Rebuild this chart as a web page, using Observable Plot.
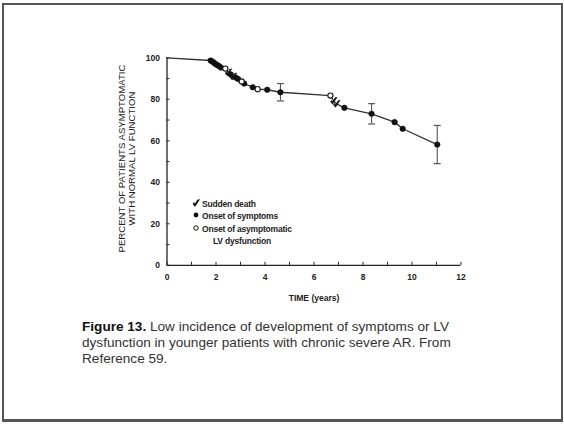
<!DOCTYPE html>
<html>
<head>
<meta charset="utf-8">
<script src="https://cdn.jsdelivr.net/npm/d3@7"></script>
<script src="https://cdn.jsdelivr.net/npm/@observablehq/plot@0.6"></script>
<style>
  html, body { margin: 0; padding: 0; background: #fff; }
  #wrap { position: relative; width: 564px; height: 424px; overflow: hidden; font-family: "Liberation Sans", Arial, sans-serif; }
  #frame { position: absolute; left: 2px; top: 3px; width: 557px; height: 414px; border: 2px solid #555; border-bottom-width: 3px; }
  #chart { position: absolute; left: 0; top: 0; }
  #legend { position: absolute; left: 192px; top: 198px; font-size: 8.5px; font-weight: bold; color: #222; line-height: 12.3px; letter-spacing: -0.2px; }
  #legend .row { display: flex; align-items: center; }
  #legend .sym { width: 10px; display: inline-block; }
  #caption { position: absolute; left: 82px; top: 319px; font-size: 13.6px; line-height: 16px; color: #333; }
  #caption b { color: #111; }
</style>
</head>
<body>
<div id="wrap">
  <div id="frame"></div>
  <div id="chart"></div>
  <div id="legend"></div>
  <div id="caption"><b>Figure 13.</b> Low incidence of development of symptoms or LV<br>dysfunction in younger patients with chronic severe AR. From<br>Reference 59.</div>
</div>
<script>
// ---- data ----
const times  = [0, 1.78, 1.85, 1.92, 1.98, 2.05, 2.12, 2.2, 2.38, 2.5, 2.6, 2.7, 2.8, 2.9, 3.05, 3.15, 3.5, 3.7, 4.09, 4.63, 6.67, 6.8, 6.92, 7.24, 8.35, 9.29, 9.62, 11.03];
const values = [100, 98.7, 98.2, 97.6, 97.0, 96.5, 96.0, 95.3, 94.8, 93.0, 92.0, 91.0, 90.5, 89.8, 88.6, 87.6, 85.8, 84.9, 84.6, 83.4, 81.8, 79.3, 77.8, 75.9, 73.0, 69.0, 65.8, 58.2];
// event type: "start", "S" onset of symptoms, "A" onset of asymptomatic LV dysfunction, "D" sudden death
const types  = ["start", "S", "S", "S", "S", "S", "S", "S", "A", "D", "S", "D", "S", "S", "A", "S", "S", "A", "S", "S", "A", "D", "D", "S", "S", "S", "S", "S"];
const errTimes  = [4.63, 8.35, 11.03];
const errValues = [83.4, 73.0, 58.2];
const errHalf   = [4.2, 4.9, 9.2];
const xTicks = [0, 2, 4, 6, 8, 10, 12];
const yTicks = [0, 20, 40, 60, 80, 100];
const legendLabels = ["Sudden death", "Onset of symptoms", "Onset of asymptomatic", "LV dysfunction"];

const data = times.map((t, i) => ({t, v: values[i], type: types[i]}));
const errs = errTimes.map((t, i) => ({t, v: errValues[i], lo: errValues[i] - errHalf[i], hi: errValues[i] + errHalf[i]}));

const capSymbol = { draw(ctx, size) { ctx.moveTo(-3.5, 0); ctx.lineTo(3.5, 0); } };
const deathSymbol = { draw(ctx, size) {
  ctx.moveTo(-3, 1); ctx.lineTo(-1, 3.5); ctx.lineTo(3.5, -3.5); ctx.lineTo(1.5, -3); ctx.lineTo(-1, 1); ctx.lineTo(-2, -0.5); ctx.closePath();
} };

const ink = "#222";
const plot = Plot.plot({
  width: 564,
  height: 424,
  marginLeft: 166.5,
  marginRight: 103.5,
  marginTop: 57.3,
  marginBottom: 159.2,
  style: { fontFamily: "'Liberation Sans', Arial, sans-serif", fontSize: "8.5px", fontWeight: "bold", color: ink, background: "transparent" },
  x: { domain: [0, 12] },
  y: { domain: [0, 100] },
  marks: [
    Plot.ruleX([0], { y1: 0, y2: 100, stroke: ink, strokeWidth: 1.3 }),
    Plot.ruleY([0], { x1: 0, x2: 12, stroke: ink, strokeWidth: 1.3 }),
    Plot.axisY({ ticks: d3.range(0, 101, 10), tickSize: -3, tickFormat: () => "", stroke: ink, label: null }),
    Plot.axisY({ ticks: yTicks, tickSize: 0, tickPadding: 7, tickFormat: d => d, fill: ink, label: null }),
    Plot.axisX({ ticks: d3.range(0, 13, 1), tickSize: -3, tickFormat: () => "", stroke: ink, label: null }),
    Plot.axisX({ ticks: xTicks, tickSize: 0, tickPadding: 9, tickFormat: d => d, fill: ink, label: null }),
    Plot.line(data, { x: "t", y: "v", stroke: "#333", strokeWidth: 1.3 }),
    Plot.ruleX(errs, { x: "t", y1: "lo", y2: "hi", stroke: "#555", strokeWidth: 1.1 }),
    Plot.dot(errs, { x: "t", y: "lo", symbol: capSymbol, stroke: "#555", strokeWidth: 1.2, r: 3 }),
    Plot.dot(errs, { x: "t", y: "hi", symbol: capSymbol, stroke: "#555", strokeWidth: 1.2, r: 3 }),
    Plot.dot(data.filter(d => d.type === "S"), { x: "t", y: "v", r: 2.8, fill: "#111", stroke: "#111", strokeWidth: 0.5 }),
    Plot.dot(data.filter(d => d.type === "A"), { x: "t", y: "v", r: 2.6, fill: "#fff", stroke: "#111", strokeWidth: 1.1 }),
    Plot.dot(data.filter(d => d.type === "D"), { x: "t", y: "v", symbol: deathSymbol, r: 3, fill: "#111", stroke: "#111", strokeWidth: 0.6 }),
    Plot.text(["TIME (years)"], { frameAnchor: "bottom", dy: 36, fill: ink, fontSize: 8.5, fontWeight: "bold" }),
    Plot.text(["PERCENT OF PATIENTS ASYMPTOMATIC"], { frameAnchor: "left", textAnchor: "middle", dx: -45.5, dy: -3, rotate: -90, fill: ink, fontSize: 9.6, fontWeight: "normal" }),
    Plot.text(["WITH NORMAL LV FUNCTION"], { frameAnchor: "left", textAnchor: "middle", dx: -35.5, dy: -3, rotate: -90, fill: ink, fontSize: 9.6, fontWeight: "normal" })
  ]
});
document.getElementById("chart").appendChild(plot);

// legend (inside plot area, drawn as HTML)
const leg = document.getElementById("legend");
const legSyms = [
  `<svg width="8" height="8" viewBox="-4 -4 8 8"><path d="M-3,1L-1,3.5L3.5,-3.5L1.5,-3L-1,1L-2,-0.5Z" fill="#111" stroke="#111" stroke-width="0.6"/></svg>`,
  `<svg width="8" height="8" viewBox="-4 -4 8 8"><circle r="2.4" fill="#111"/></svg>`,
  `<svg width="8" height="8" viewBox="-4 -4 8 8"><circle r="2.2" fill="#fff" stroke="#111" stroke-width="1"/></svg>`,
  ``
];
legendLabels.forEach((lab, i) => {
  const row = document.createElement("div");
  row.className = "row";
  row.innerHTML = `<span class="sym">${legSyms[i]}</span><span style="${i === 3 ? 'padding-left:11px' : ''}">${lab}</span>`;
  leg.appendChild(row);
});
</script>
</body>
</html>
